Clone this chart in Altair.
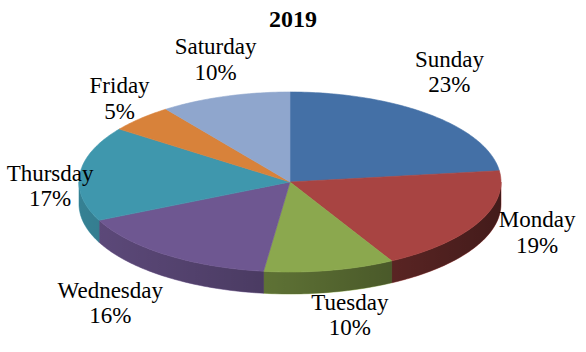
import altair as alt
import numpy as np
import pandas as pd

# ---- data ----
days = ["Sunday", "Monday", "Tuesday", "Wednesday", "Thursday", "Friday", "Saturday"]
shares = [23, 19, 10, 16, 17, 5, 10]
colors = ["#4470A6", "#A84442", "#8BA84E", "#6E5791", "#3F97AD", "#D8823A", "#8FA6CD"]
chart_title = "2019"

# ---- layout constants (pixels) ----
RX, RY = 211.0, 90.0          # ellipse semi-axes in px
CX, CY = 290.0, 150.0         # pie centre within the plot area
W, H = 586, 320
PAD_TOP = 32
DEPTH = 22.0 / RY             # wall depth in y-units
GAP_X, GAP_X_FRONT = 30.0, 80.0
GAP_Y, SHIFT_Y, TILT_Y = 46.0, 2.5, 15.0
LINE_H = 25.5

XMIN = -CX / RX
XMAX = XMIN + W / RX
YMAX = CY / RY
YMIN = YMAX - H / RY

fr = np.array(shares, dtype=float) / sum(shares)
ends = np.cumsum(fr)
starts = ends - fr


def arc(f0, f1):
    n = max(2, int(np.ceil((f1 - f0) * 360)))
    f = np.linspace(f0, f1, n + 1)
    t = 2 * np.pi * f
    return np.sin(t), np.cos(t)


# top faces
top_rows = []
for i, d in enumerate(days):
    xs, ys = arc(starts[i], ends[i])
    pts = [(0.0, 0.0)] + list(zip(xs, ys))
    for k, (x, y) in enumerate(pts):
        top_rows.append(dict(day=d, idx=k, x=x, y=y, col=colors[i]))
top_df = pd.DataFrame(top_rows)

# front walls (visible part of the rim: fraction 0.25..0.75)
wall_rows = []
for i, d in enumerate(days):
    lo, hi = max(starts[i], 0.25), min(ends[i], 0.75)
    if hi <= lo:
        continue
    xs, ys = arc(lo, hi)
    pts = list(zip(xs, ys)) + list(zip(xs[::-1], ys[::-1] - DEPTH))
    for k, (x, y) in enumerate(pts):
        wall_rows.append(dict(day=d, idx=k, x=x, y=y, col=colors[i]))
wall_df = pd.DataFrame(wall_rows)

xs, ys = arc(0.25, 0.75)
shade_pts = list(zip(xs, ys)) + list(zip(xs[::-1], ys[::-1] - DEPTH))
shade_df = pd.DataFrame([dict(idx=k, x=x, y=y) for k, (x, y) in enumerate(shade_pts)])

# labels
mid = 2 * np.pi * (starts + ends) / 2
s, c = np.sin(mid), np.cos(mid)
front = np.maximum(0, -c)
lab_df = pd.DataFrame({
    "day": days,
    "label": [f"{d}\n{v}%" for d, v in zip(days, shares)],
    "x": s * (1 + (GAP_X + GAP_X_FRONT * front) / RX),
    "y": c * (1 + GAP_Y / RY) + (TILT_Y * s - SHIFT_Y) / RY,
})

xenc = alt.X("x:Q", scale=alt.Scale(domain=[XMIN, XMAX], nice=False, zero=False), axis=None)
yenc = alt.Y("y:Q", scale=alt.Scale(domain=[YMIN, YMAX], nice=False, zero=False), axis=None)

walls = alt.Chart(wall_df).mark_line(interpolate="linear-closed", strokeWidth=0.6).encode(
    x=xenc, y=yenc, detail="day:N", order="idx:Q",
    fill=alt.Fill("col:N", scale=None), stroke=alt.Stroke("col:N", scale=None),
)

shade = alt.Chart(shade_df).mark_line(
    interpolate="linear-closed", strokeWidth=0,
    fill={"gradient": "linear", "x1": 0, "y1": 0, "x2": 1, "y2": 0,
          "stops": [{"offset": 0, "color": "rgba(0,0,0,0.15)"},
                    {"offset": 0.5, "color": "rgba(0,0,0,0.35)"},
                    {"offset": 1, "color": "rgba(0,0,0,0.6)"}]},
).encode(x=xenc, y=yenc, order="idx:Q")

tops = alt.Chart(top_df).mark_line(interpolate="linear-closed", strokeWidth=0.6).encode(
    x=xenc, y=yenc, detail="day:N", order="idx:Q",
    fill=alt.Fill("col:N", scale=None), stroke=alt.Stroke("col:N", scale=None),
)

labels = alt.Chart(lab_df).mark_text(
    font="Liberation Serif", fontSize=23, lineBreak="\n", lineHeight=LINE_H,
    align="center", baseline="middle", dy=-LINE_H / 2, color="#000000",
).encode(x=xenc, y=yenc, text="label:N")

chart = alt.layer(walls, shade, tops, labels).properties(
    width=W, height=H,
    autosize="none",
    background="white",
    padding={"left": 0, "right": 0, "top": PAD_TOP, "bottom": 0},
    title=alt.Title(chart_title, font="Liberation Serif", fontSize=24, fontWeight="bold",
                    anchor="middle", baseline="alphabetic", offset=5, dy=24,
                    color="#000000"),
).configure_view(stroke=None)

chart.save("out.html", embed_options={"renderer": "svg", "actions": False})
